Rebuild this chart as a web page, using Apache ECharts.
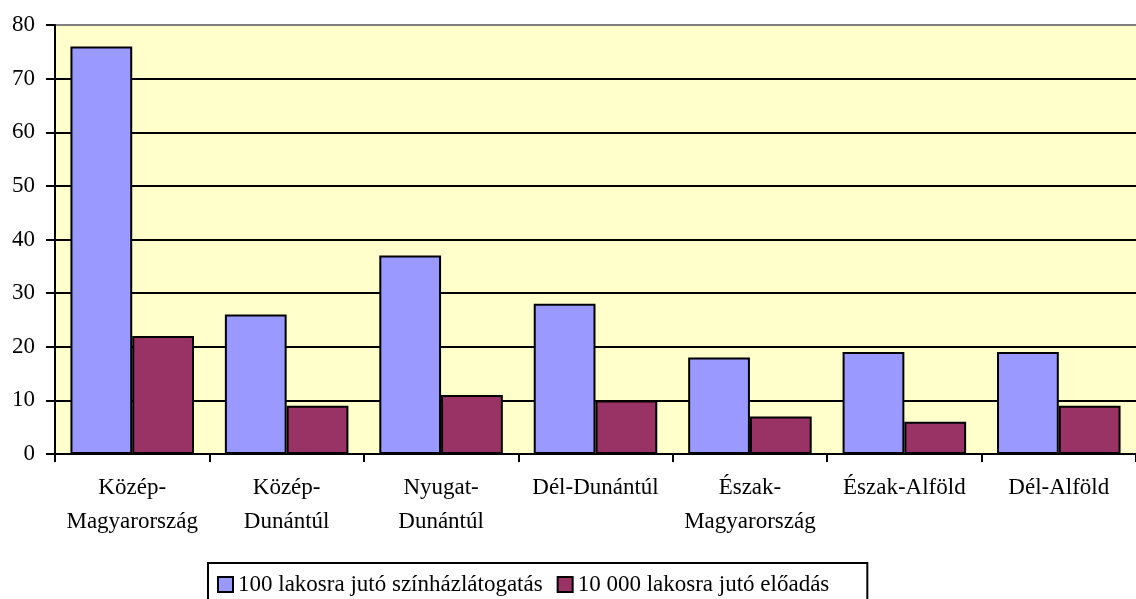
<!DOCTYPE html>
<html>
<head>
<meta charset="utf-8">
<script src="https://cdn.jsdelivr.net/npm/echarts@6/dist/echarts.min.js"></script>
<style>
  html, body { margin: 0; padding: 0; background: #fff; }
  #chart { width: 1136px; height: 599px; }
</style>
</head>
<body>
<div id="chart"></div>
<script>
const categories = [
  'Közép-\nMagyarország',
  'Közép-\nDunántúl',
  'Nyugat-\nDunántúl',
  'Dél-Dunántúl',
  'Észak-\nMagyarország',
  'Észak-Alföld',
  'Dél-Alföld'
];
const visitors = [76, 26, 37, 28, 18, 19, 19];   // 100 lakosra jutó színházlátogatás
const performances = [22, 9, 11, 10, 7, 6, 9];   // 10 000 lakosra jutó előadás
const seriesNames = ['100 lakosra jutó színházlátogatás', '10 000 lakosra jutó előadás'];

const font = '"Liberation Serif", "Times New Roman", serif';

const chart = echarts.init(document.getElementById('chart'));
chart.setOption({
  animation: false,
  backgroundColor: '#fff',
  textStyle: { fontFamily: font },
  grid: {
    left: 55,
    top: 25,
    width: 1092,
    height: 429,
    show: true,
    backgroundColor: '#FFFFCC',
    borderWidth: 0
  },
  legend: {
    left: 208,
    top: 563,
    padding: [10, 38, 10, 9],
    itemWidth: 15,
    itemHeight: 15,
    itemGap: 14,
    icon: 'rect',
    borderColor: '#000',
    borderWidth: 2,
    textStyle: { fontFamily: font, fontSize: 23, color: '#000' },
    data: seriesNames
  },
  xAxis: {
    type: 'category',
    data: categories,
    axisLine: { lineStyle: { color: '#000', width: 2 } },
    axisTick: { show: true, length: 8, lineStyle: { color: '#000', width: 2 } },
    axisLabel: {
      interval: 0,
      margin: 17,
      fontFamily: font,
      fontSize: 23,
      lineHeight: 34,
      color: '#000'
    }
  },
  yAxis: {
    type: 'value',
    min: 0,
    max: 80,
    interval: 10,
    axisLine: { show: true, lineStyle: { color: '#000', width: 2 } },
    axisTick: { show: true, length: 9, lineStyle: { color: '#000', width: 2 } },
    axisLabel: { margin: 20, fontFamily: font, fontSize: 23, color: '#000' },
    splitLine: {
      lineStyle: {
        color: ['#000', '#000', '#000', '#000', '#000', '#000', '#000', '#000', '#808080'],
        width: 2
      }
    }
  },
  series: [
    {
      name: seriesNames[0],
      type: 'bar',
      data: visitors,
      barGap: '0%',
      barCategoryGap: '20%',
      itemStyle: { color: '#9999FF', borderColor: '#000', borderWidth: 2 }
    },
    {
      name: seriesNames[1],
      type: 'bar',
      data: performances,
      itemStyle: { color: '#993366', borderColor: '#000', borderWidth: 2 }
    }
  ]
});
</script>
</body>
</html>
